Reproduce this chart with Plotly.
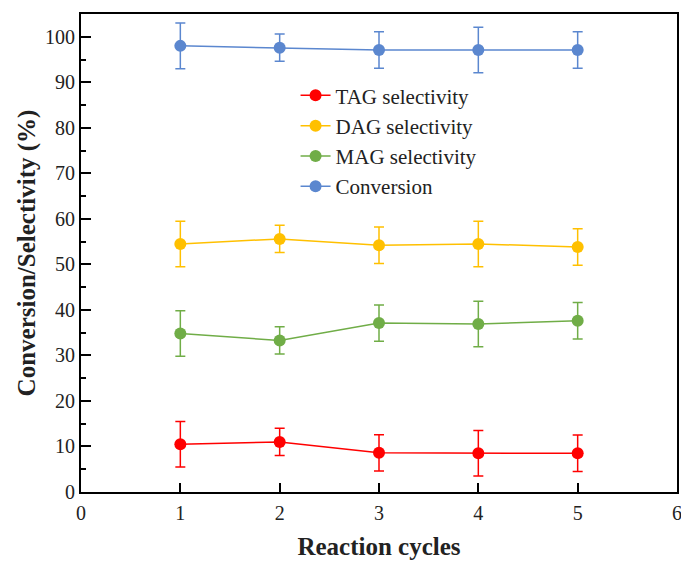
import plotly.graph_objects as go

cycles = [1, 2, 3, 4, 5]
tag = [10.5, 11.0, 8.6, 8.5, 8.5]
tag_err = [5, 3, 4, 5, 4]
dag = [54.5, 55.6, 54.2, 54.5, 53.8]
dag_err = [5, 3, 4, 5, 4]
mag = [34.8, 33.3, 37.1, 36.9, 37.6]
mag_err = [5, 3, 4, 5, 4]
conv = [98.0, 97.6, 97.1, 97.1, 97.1]
conv_err = [5, 3, 4, 5, 4]

series = [
    ("TAG selectivity", tag, tag_err, "#FF0000"),
    ("DAG selectivity", dag, dag_err, "#FFC000"),
    ("MAG selectivity", mag, mag_err, "#70AD47"),
    ("Conversion", conv, conv_err, "#5B87CF"),
]

fig = go.Figure()
for name, vals, errs, col in series:
    fig.add_trace(go.Scatter(
        x=cycles, y=vals, name=name, mode="lines+markers",
        line=dict(color=col, width=1.5),
        marker=dict(color=col, size=12),
        error_y=dict(type="data", array=errs, visible=True, color=col,
                     thickness=1.5, width=5),
    ))

font_family = "Liberation Serif"
fig.update_layout(
    width=681, height=562,
    margin=dict(l=81, r=4, t=14, b=70, autoexpand=False),
    paper_bgcolor="white", plot_bgcolor="white",
    font=dict(family=font_family, size=20, color="#222"),
    showlegend=True,
    legend=dict(x=0.36, y=0.872, xanchor="left", yanchor="top",
                bgcolor="rgba(0,0,0,0)", font=dict(family=font_family, size=21, color="#222"),
                tracegroupgap=0, itemwidth=30),
    xaxis=dict(range=[0, 6], dtick=1, tick0=0, ticks="inside", ticklen=9,
               tickwidth=2, tickcolor="black", showline=True, linecolor="black",
               linewidth=2, mirror=True, showgrid=False, zeroline=False,
               automargin=False, ticklabelstandoff=2, ticklabeloverflow="allow",
               tickfont=dict(family=font_family, size=20, color="#222"),
               title=dict(text="<b>Reaction cycles</b>",
                          font=dict(family=font_family, size=25, color="#222"),
                          standoff=14)),
    yaxis=dict(range=[0, 105], dtick=10, tick0=0, ticks="inside", ticklen=10,
               tickwidth=2, tickcolor="black", showline=True, linecolor="black",
               linewidth=2, mirror=True, showgrid=False, zeroline=False,
               automargin=False,
               minor=dict(dtick=5, ticks="inside", ticklen=5, tickwidth=2, tickcolor="black"),
               tickfont=dict(family=font_family, size=20, color="#222"),
               title=dict(text="<b>Conversion/Selectivity (%)</b>",
                          font=dict(family=font_family, size=25, color="#222"),
                          standoff=2)),
)

fig.write_html("out.html")
